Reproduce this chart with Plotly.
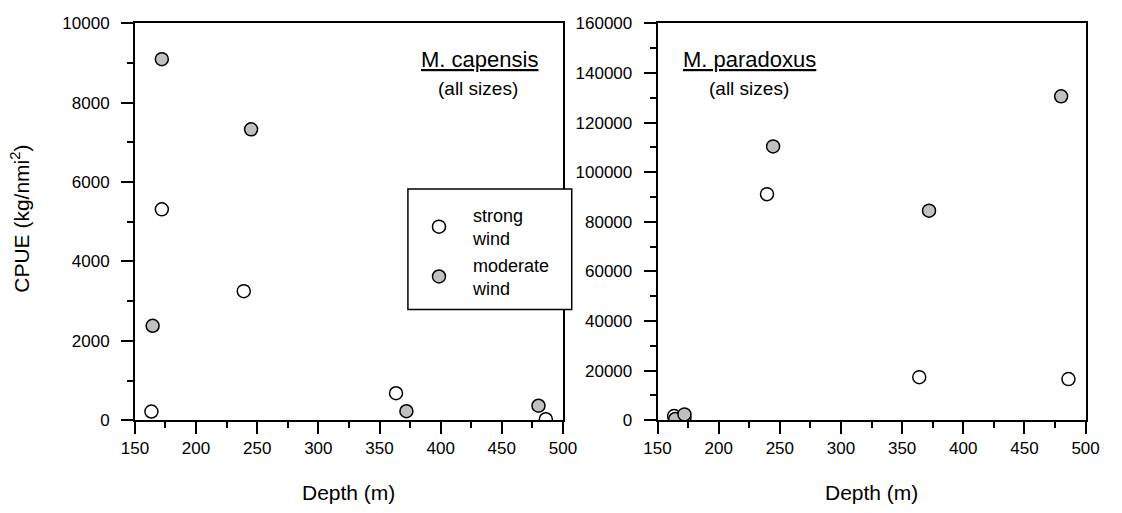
import plotly.graph_objects as go

# Data
cap_strong_depth = [163.5, 172, 239, 363.5, 486]
cap_strong_cpue = [218, 5315, 3252, 680, 24]
cap_mod_depth = [164.5, 172, 245, 372, 480]
cap_mod_cpue = [2380, 9100, 7330, 226, 364]

par_strong_depth = [163.5, 172, 239.5, 364, 486]
par_strong_cpue = [1670, 1000, 91150, 17360, 16580]
par_mod_depth = [164.5, 172, 244.5, 372, 480]
par_mod_cpue = [500, 2330, 110400, 84500, 130600]

W, H = 1122, 513
FONT = "Liberation Sans, Arial, sans-serif"
GREY = "#c0c0c0"

def px(x):
    return x / W

def py(y):
    return 1 - y / H

mk_strong = dict(symbol="circle", size=13, color="white", line=dict(color="black", width=1.5))
mk_mod = dict(symbol="circle", size=13, color=GREY, line=dict(color="black", width=1.5))

fig = go.Figure()
fig.add_trace(go.Scatter(x=cap_strong_depth, y=cap_strong_cpue, mode="markers", marker=mk_strong,
                         name="strong<br>wind", xaxis="x", yaxis="y", showlegend=True))
fig.add_trace(go.Scatter(x=cap_mod_depth, y=cap_mod_cpue, mode="markers", marker=mk_mod,
                         name="moderate<br>wind", xaxis="x", yaxis="y", showlegend=True))
fig.add_trace(go.Scatter(x=par_strong_depth, y=par_strong_cpue, mode="markers", marker=mk_strong,
                         name="strong<br>wind", xaxis="x2", yaxis="y2", showlegend=False))
fig.add_trace(go.Scatter(x=par_mod_depth, y=par_mod_cpue, mode="markers", marker=mk_mod,
                         name="moderate<br>wind", xaxis="x2", yaxis="y2", showlegend=False))

xcommon = dict(range=[150, 500], tickmode="linear", tick0=150, dtick=50, tickformat="d",
               ticks="outside", ticklen=12, tickwidth=1.5, tickcolor="black",
               minor=dict(dtick=25, ticks="outside", ticklen=6, tickwidth=1.5, tickcolor="black"),
               showline=True, linecolor="black", linewidth=1.5, mirror=True,
               showgrid=False, zeroline=False,
               tickfont=dict(family=FONT, size=17, color="black"))

def ycommon(rmax, dt, mdt):
    return dict(range=[0, rmax], tickmode="linear", tick0=0, dtick=dt, tickformat="d",
                ticksuffix="\u00a0\u2009",
                ticks="outside", ticklen=12, tickwidth=1.5, tickcolor="black",
                minor=dict(dtick=mdt, ticks="outside", ticklen=6, tickwidth=1.5, tickcolor="black"),
                showline=True, linecolor="black", linewidth=1.5, mirror=True,
                showgrid=False, zeroline=False,
                tickfont=dict(family=FONT, size=17, color="black"))

ydom = [py(427), py(15)]
fig.update_layout(
    width=W, height=H,
    margin=dict(l=0, r=0, t=0, b=0),
    paper_bgcolor="white", plot_bgcolor="white",
    font=dict(family=FONT, color="black"),
    xaxis=dict(domain=[px(124), px(563)], anchor="y", **xcommon),
    yaxis=dict(domain=ydom, anchor="x", **ycommon(10000, 2000, 1000)),
    xaxis2=dict(domain=[px(660), px(1099)], anchor="y2", **xcommon),
    yaxis2=dict(domain=ydom, anchor="x2", **ycommon(160000, 20000, 10000)),
    legend=dict(x=px(401), y=py(195), xanchor="left", yanchor="top",
                bgcolor="rgba(0,0,0,0)", borderwidth=0, itemwidth=58,
                font=dict(family=FONT, size=18, color="black"),
                tracegroupgap=0),
    showlegend=True,
)

fig.add_shape(type="rect", xref="paper", yref="paper",
              x0=px(404), x1=px(572), y0=py(312), y1=py(187),
              line=dict(color="black", width=1.5), fillcolor="white", layer="above")

def a(text, x, y, size, angle=0):
    return dict(text=text, x=px(x), y=py(y), xref="paper", yref="paper",
                xanchor="center", yanchor="middle", textangle=angle,
                showarrow=False, font=dict(family=FONT, size=size, color="black"))

ann = [a("CPUE (kg/nmi<sup>2</sup>)", 6, 218, 21, -90)]
for cx in [(124 + 563) / 2, (660 + 1099) / 2]:
    ann.append(a("Depth (m)", cx, 502, 21))
ann.append(a("<u>M. capensis</u>", 477, 52, 22))
ann.append(a("(all sizes)", 476, 83, 19))
ann.append(a("<u>M. paradoxus</u>", 754, 52, 22))
ann.append(a("(all sizes)", 754, 83, 19))
fig.update_layout(annotations=ann)

fig.write_html("out.html")
